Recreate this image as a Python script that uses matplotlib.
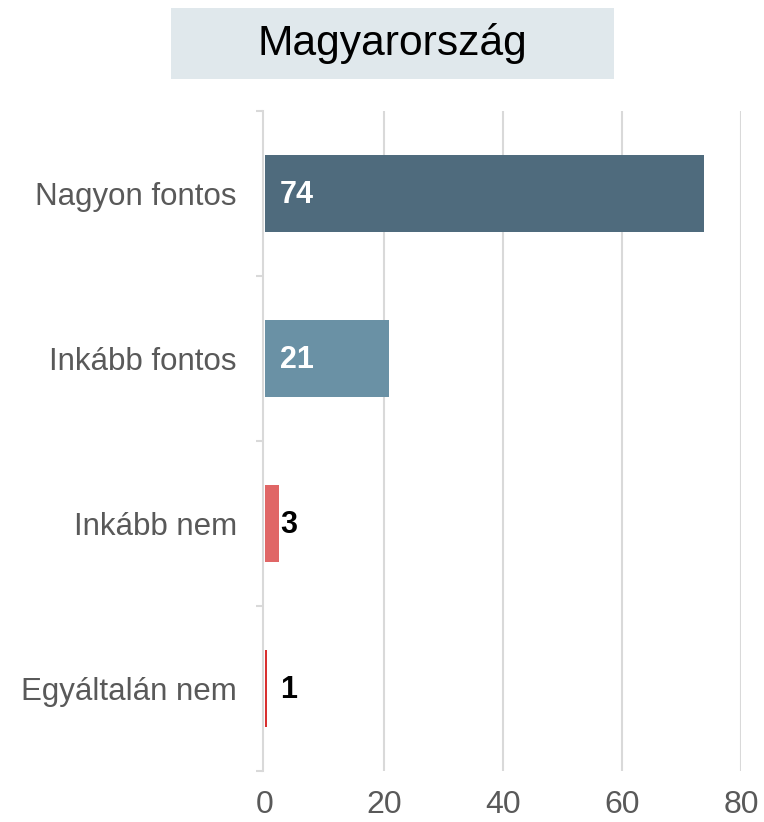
import matplotlib
matplotlib.use("Agg")
import matplotlib.pyplot as plt
from matplotlib.patches import Rectangle

categories = ["Nagyon fontos", "Inkább fontos", "Inkább nem", "Egyáltalán nem"]
values = [73.8, 20.8, 2.4, 0.4]
value_labels = ["74", "21", "3", "1"]
colors = ["#4f6b7d", "#6a91a5", "#e06666", "#d93030"]
label_colors = ["white", "white", "black", "black"]
xticks = [0, 20, 40, 60, 80]
title = "Magyarország"

plt.rcParams['font.family'] = ['Liberation Sans', 'DejaVu Sans']

fig = plt.figure(figsize=(7.64, 8.22), dpi=100)
ax = fig.add_axes([265/764, 1-771/822, (741-265)/764, (771-111)/822])

for s in ["top", "right", "bottom"]:
    ax.spines[s].set_visible(False)
ax.spines["left"].set_position(("outward", 1.2))
ax.spines["left"].set_color("#d9d9d9")
ax.spines["left"].set_linewidth(1.5)

ypos = list(range(len(categories)))
ax.barh(ypos, values, height=0.47, color=colors, zorder=2)
for y, lab, c in zip(ypos, value_labels, label_colors):
    ax.text(2.5, y + 0.01, lab, ha="left", va="center", fontsize=22, fontweight="bold", color=c, zorder=3)

ax.set_xlim(0, 80)
ax.set_ylim(len(categories)-0.5, -0.5)
ax.set_xticks(xticks)
ax.set_xticklabels([str(t) for t in xticks], fontsize=23, color="#595959")
ax.tick_params(axis="x", length=0, pad=14)
ax.set_yticks(ypos)
ax.set_yticklabels(categories, fontsize=22.5, color="#595959")
ax.set_yticks([i - 0.5 for i in range(len(categories)+1)], minor=True)
ax.tick_params(axis="y", which="major", length=0, pad=19)
ax.tick_params(axis="y", which="minor", length=5, width=1.5, color="#d9d9d9")

for t in xticks[1:]:
    ax.axvline(t, color="#d9d9d9", lw=1.5, zorder=1)

fig.patches.append(Rectangle((171/764, 1-79/822), (614-171)/764, (79-8)/822,
                             transform=fig.transFigure, facecolor="#e0e8ec", edgecolor="none"))
fig.text(392.5/764, 1-44/822, title, ha="center", va="center", fontsize=30.7, color="black")

fig.savefig("out.png", dpi=100)
